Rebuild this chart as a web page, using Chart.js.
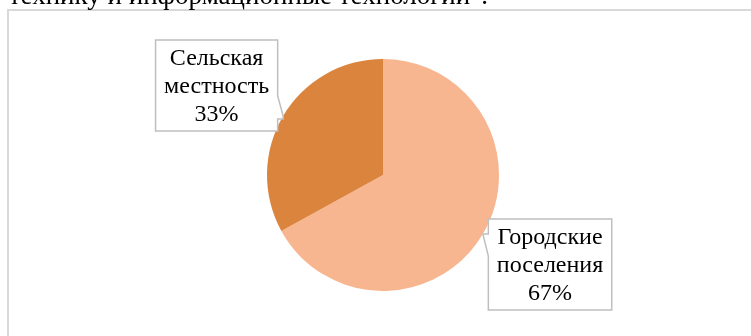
<!DOCTYPE html>
<html lang="ru">
<head>
<meta charset="utf-8">
<title>Городские и сельские</title>
<script src="https://cdn.jsdelivr.net/npm/chart.js@4/dist/chart.umd.min.js"></script>
<style>
  html, body { margin: 0; padding: 0; background: #fff; }
  #wrap { position: relative; width: 751px; height: 336px; overflow: hidden; }
</style>
</head>
<body>
<div id="wrap"><canvas id="settlementChart" width="751" height="336"></canvas></div>
<script>
const categories = ['Городские поселения', 'Сельская местность'];
const shares = [67, 33];
const sliceColors = ['#F8B690', '#DB843E'];

const FONT = '"Liberation Serif", "Times New Roman", serif';

// frame of the chart block and the tail of the sentence above it
const framePlugin = {
    id: 'frame',
    beforeDraw(chart) {
        const c = chart.ctx;
        c.save();
        c.fillStyle = '#fff';
        c.fillRect(0, 0, chart.width, chart.height);
        c.strokeStyle = '#D9D9D9';
        c.lineWidth = 2;
        c.strokeRect(8, 10, chart.width + 20, chart.height + 20);
        c.fillStyle = '#000';
        c.font = '27px ' + FONT;
        c.textAlign = 'right';
        c.textBaseline = 'alphabetic';
        c.fillText('технику и информационные технологии".', 488, 4);
        c.restore();
    }
};

// callout boxes pointing at the middle of each slice
const calloutPlugin = {
    id: 'callouts',
    afterDatasetsDraw(chart) {
        const c = chart.ctx;
        const meta = chart.getDatasetMeta(0);
        c.save();
        c.font = '24px ' + FONT;
        c.textAlign = 'center';
        c.textBaseline = 'middle';
        meta.data.forEach((arc, i) => {
            const p = arc.getProps(['x', 'y', 'startAngle', 'endAngle', 'outerRadius'], true);
            const mid = (p.startAngle + p.endAngle) / 2;
            const tx = p.x + Math.cos(mid) * p.outerRadius;
            const ty = p.y + Math.sin(mid) * p.outerRadius;
            const lines = categories[i].split(' ').concat(shares[i] + '%');
            const w = Math.max(...lines.map(s => c.measureText(s).width)) + 17;
            const h = 91;
            const lineH = 28;
            let L, T;
            c.beginPath();
            if (Math.cos(mid) >= 0) {
                L = tx + 5.5;
                T = ty - 15;
                const R = L + w, B = T + h;
                c.moveTo(L, T);
                c.lineTo(R, T);
                c.lineTo(R, B);
                c.lineTo(L, B);
                c.lineTo(L, ty + 22);
                c.lineTo(tx, ty);
                c.lineTo(L, ty);
                c.closePath();
            } else {
                const R = tx - 5.5;
                const B = ty + 15;
                L = R - w;
                T = B - h;
                c.moveTo(L, T);
                c.lineTo(R, T);
                c.lineTo(R, ty - 20);
                c.lineTo(tx, ty);
                c.lineTo(tx, ty + 3);
                c.lineTo(R, ty + 3);
                c.lineTo(R, B);
                c.lineTo(L, B);
                c.closePath();
            }
            c.fillStyle = '#fff';
            c.fill();
            c.strokeStyle = '#BFBFBF';
            c.lineWidth = 1.5;
            c.stroke();
            c.fillStyle = '#000';
            const cx = L + w / 2;
            const y0 = T + (h - lineH * lines.length) / 2 + lineH / 2 + 1;
            lines.forEach((s, k) => c.fillText(s, cx, y0 + k * lineH));
        });
        c.restore();
    }
};

const data = {
    labels: categories,
    datasets: [{
        data: shares,
        backgroundColor: sliceColors,
        borderWidth: 0,
        hoverOffset: 0,
    }]
};

const options = {
    responsive: false,
    animation: false,
    events: [],
    layout: {
        padding: { left: 267, right: 252, top: 59, bottom: 45 }
    },
    plugins: {
        legend: { display: false },
        tooltip: { enabled: false },
    },
};

const settlementChart = new Chart(document.getElementById('settlementChart'), {
    type: 'pie',
    data: data,
    options: options,
    plugins: [framePlugin, calloutPlugin],
});
</script>
</body>
</html>
